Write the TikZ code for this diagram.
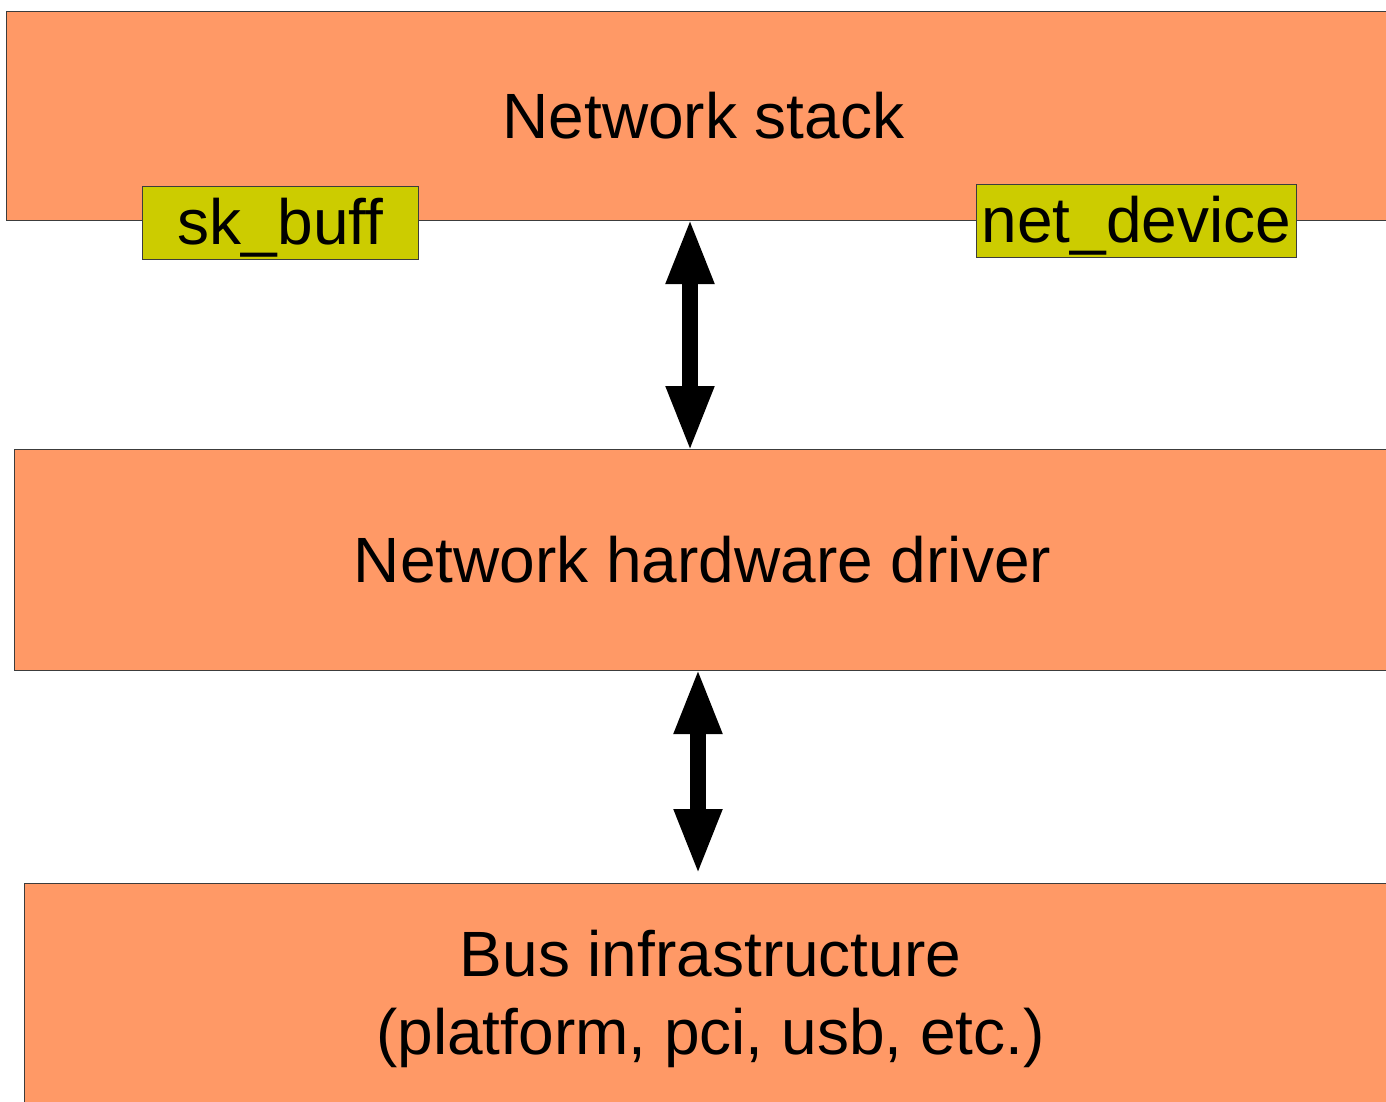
\documentclass[tikz,border=0pt]{standalone}
\usepackage{fontspec}
\setmainfont[Ligatures=NoCommon]{Liberation Sans}
\usetikzlibrary{arrows.meta}
\definecolor{layerorange}{RGB}{255,153,102}
\definecolor{structyellow}{RGB}{204,204,0}
\definecolor{edgegray}{RGB}{60,60,60}
\begin{document}
\begin{tikzpicture}[x=1pt,y=-1pt,
  bigfont/.style={font=\fontsize{64}{78}\selectfont},
  layer/.style={draw=edgegray, line width=1pt, fill=layerorange, inner sep=0pt, anchor=north west, bigfont, align=center},
  structbox/.style={draw=edgegray, line width=1pt, fill=structyellow, inner sep=0pt, anchor=north west, bigfont, text height=58pt, text depth=15pt},
  bigarrow/.style={line width=16pt, {Triangle[width=44pt,length=66pt]}-{Triangle[width=44pt,length=66pt]}}
]
\useasboundingbox (0,0) rectangle (1386,1101);
\node[layer, minimum width=1394pt, minimum height=209pt] (stack) at (6,11) {Network stack};
\node[structbox, minimum width=276pt, minimum height=73pt] (skb) at (142,186) {sk\_buff};
\node[structbox, minimum width=320pt, minimum height=73pt] (netdev) at (976,184) {net\_device};
\node[layer, minimum width=1376pt, minimum height=221pt] (driver) at (14,449) {Network hardware driver};
\node[layer, minimum width=1372pt, minimum height=231pt] (bus) at (24,883) {Bus infrastructure\\(platform, pci, usb, etc.)};
\coordinate (a1) at (690,0);
\coordinate (a2) at (698,0);
\draw[bigarrow] ([yshift=3pt]stack.south -| a1) -- ([yshift=-3pt]driver.north -| a1);
\draw[bigarrow] ([yshift=3pt]driver.south -| a2) -- ([yshift=8pt]bus.north -| a2);
\end{tikzpicture}
\end{document}
